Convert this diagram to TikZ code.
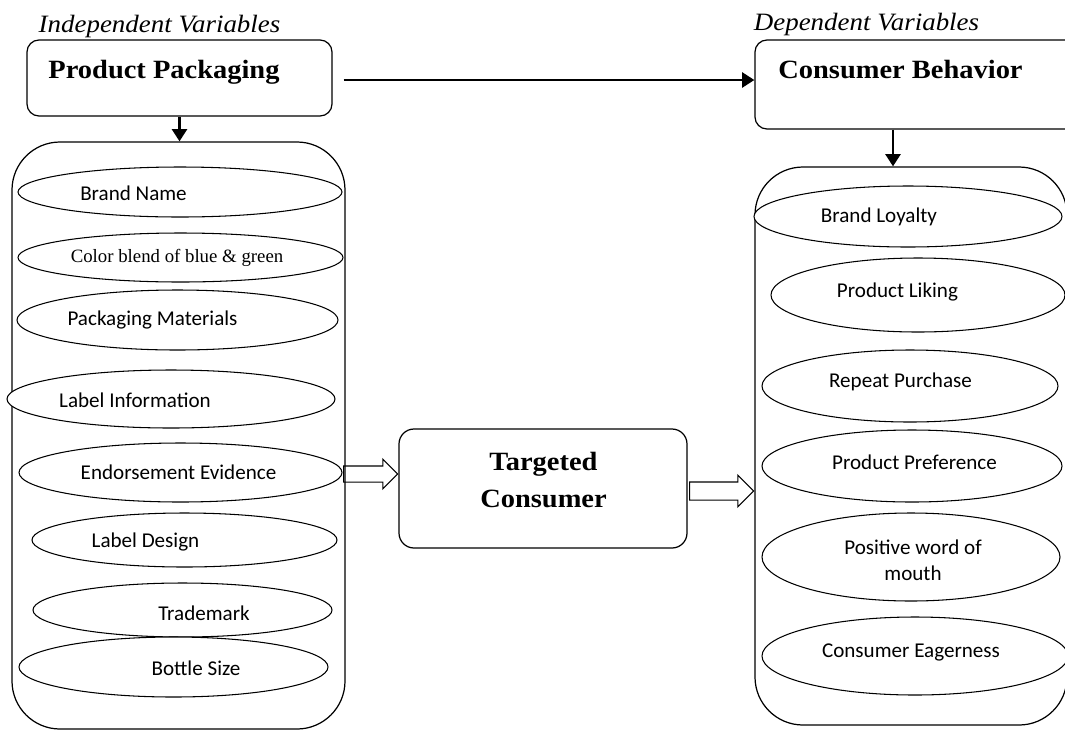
\documentclass[tikz,border=0pt]{standalone}
\usepackage{fontspec}
\newfontfamily\calfont{Carlito}
\newfontfamily\timesfont{Liberation Serif}
\newfontfamily\headfont[FakeStretch=1.08]{Liberation Serif}
\usetikzlibrary{arrows.meta,shapes.geometric,shapes.arrows,calc}
\newcommand\ovalsans{\calfont\fontsize{12}{14.8}\selectfont}
\newcommand\ovalserif{\timesfont\fontsize{10.7}{13}\selectfont}

\begin{document}
\begin{tikzpicture}[x=0.02cm,y=-0.02cm,line width=0.7pt,>={Triangle[length=7pt,width=8.5pt]},
  varlabel/.style={font=\headfont\fontsize{14.2}{17}\selectfont\itshape,anchor=base},
  headtext/.style={font=\headfont\fontsize{15}{21}\selectfont\bfseries},
  headbox/.style={draw,rounded corners=0.24cm,inner sep=0pt},
  column/.style={draw,rounded corners=0.96cm,inner sep=0pt},
  oval/.style={draw,fill=white,ellipse,inner sep=0pt,line width=0.6pt},
  hollow/.style={draw,single arrow,single arrow head extend=0.135cm,inner xsep=0pt,line width=0.6pt},
  thickarr/.style={->,line width=1.6pt}]
\def\px{0.02cm}
\useasboundingbox (0,0) rectangle (1065,731);
% ---- headings ----
\node[varlabel] (indep) at (159.5,32) {Independent Variables};
\node[varlabel] (dep) at (866.5,30) {Dependent Variables};
% ---- the two columns ----
\node[column,minimum width=333*\px,minimum height=587*\px] (leftcol) at (178.5,435.5) {};
\node[column,minimum width=312*\px,minimum height=558*\px] (rightcol) at (911,446) {};
% ---- independent items ----
\foreach \nm/\x/\y/\w/\h/\dx/\dy/\f/\txt in {
  brand/180/192/324/50/-46.5/1/\ovalsans/Brand Name,
  colour/180.5/257.5/325/49/-3.5/0/\ovalserif/Color blend of blue \& green,
  material/177.5/320/321/60/-25/0/\ovalsans/Packaging Materials,
  labinfo/171/399/328/58/-36/1/\ovalsans/Label Information,
  endorse/180.5/472.5/323/59/-2/0/\ovalsans/Endorsement Evidence,
  labdesign/184.5/540/305/54/-39/2/\ovalsans/Label Design,
  trademark/182.5/610/299/54/21.5/3/\ovalsans/Trademark,
  bottle/173.5/667/309/60/22.5/1/\ovalsans/Bottle Size}{
  \node[oval,minimum width=\w*\px,minimum height=\h*\px,
    label={[font=\f,shift={(\dx,\dy)}]center:\txt}] (\nm) at (\x,\y) {};
}
% ---- dependent items ----
\foreach \nm/\x/\y/\w/\h/\dx/\dy/\txt in {
  loyalty/908/216.5/308/61/-29/0/Brand Loyalty,
  liking/918/295/294/74/-20.5/-3/Product Liking,
  repeat/910/386/296/72/-9.5/-4/Repeat Purchase,
  prefer/912/466/300/72/2.5/-4/Product Preference,
  mouth/911/557/298/88/2/3/{Positive word of\\mouth},
  eager/915/656/306/78/-4/-4/Consumer Eagerness}{
  \node[oval,minimum width=\w*\px,minimum height=\h*\px,
    label={[font=\ovalsans,align=center,shift={(\dx,\dy)}]center:\txt}] (\nm) at (\x,\y) {};
}
% ---- boxes ----
\node[headbox,minimum width=305*\px,minimum height=76*\px] (pack) at (179.5,78) {};
\node[headtext,anchor=base] (packtxt) at (164,78) {Product Packaging};
\node[headbox,minimum width=340*\px,minimum height=89*\px] (cbox) at (925,84.5) {};
\node[headtext,anchor=base] (cbtxt) at (900.5,78) {Consumer Behavior};
\node[headbox,rounded corners=0.3cm,minimum width=288*\px,minimum height=119*\px] (tcbox) at (543,488.5) {};
\node[headtext,align=center] (tctxt) at (543.5,480) {Targeted\\Consumer};
% ---- arrows ----
\draw[thickarr] ([shift={(11,2)}]pack.east) -- ([shift={(0,-4.5)}]cbox.west);
\draw[thickarr] (pack.south) -- (pack.south |- leftcol.north);
\draw[thickarr] ([shift={(-32,0)}]cbox.south) -- ([shift={(-32,0)}]cbox.south |- rightcol.north);
\node[hollow,minimum height=54*\px,inner ysep=7.5*\px,anchor=tip] (totc) at ([shift={(0,-14.5)}]tcbox.west) {};
\node[hollow,minimum height=64*\px,inner ysep=8.5*\px,anchor=tip] (tocb) at ($(rightcol.west |- tcbox.east)+(0,2.5)$) {};
\end{tikzpicture}
\end{document}
